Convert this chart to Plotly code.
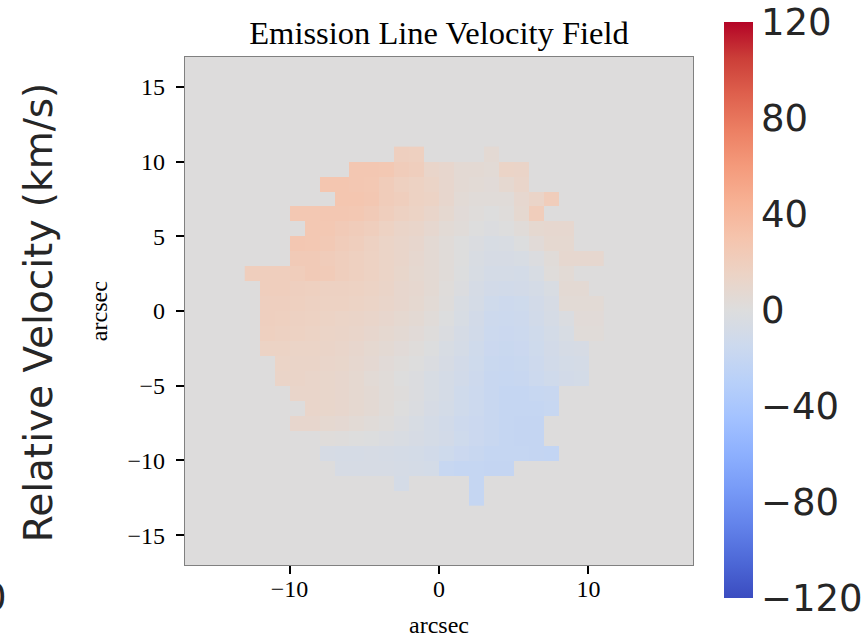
import plotly.graph_objects as go

# ---------------- data ----------------
title_text = "Emission Line Velocity Field"
x_label = "arcsec"
y_label = "arcsec"
cbar_label = "Relative Velocity (km/s)"
x_ticks = [-10, 0, 10]
y_ticks = [-15, -10, -5, 0, 5, 10, 15]
cbar_ticks = [120, 80, 40, 0, -40, -80, -120]
v_min, v_max = -120, 120
axis_range = [-17, 17]

# spaxel grid: 1 arcsec cells, lower-left corners from -13 to 10
cell_x0 = list(range(-13, 11))
cell_y0 = list(range(10, -14, -1))

# first filled column (lower-left x corner) of each row, top row first
row_start = [-3, -6, -8, -7, -10, -9, -10, -10, -13, -12, -12, -12, -12,
             -12, -11, -11, -10, -9, -10, -8, -8, -7, -3, 2]

# velocities (km/s) per row, top (y=10..11) to bottom (y=-13..-12)
v_r10 = [19, 18, None, None, None, None, 6]
v_r09 = [27, 27, 26, 22, 20, 12, 10, 6, 6, 5, 14, 13]
v_r08 = [28, 28, 27, 26, 22, 18, 16, 14, 10, 6, 5, 4, 8, 12]
v_r07 = [28, 28, 27, 22, 20, 16, 15, 10, 5, 3, 3, 3, 9, 13, 21]
v_r06 = [26, 26, 27, 27, 26, 24, 20, 17, 15, 12, 8, 4, 2, 0, 2, 8, 21]
v_r05 = [26, 26, 24, 22, 20, 16, 13, 12, 9, 5, 3, 0, -2, 0, 3, 8, 9, 9]
v_r04 = [27, 26, 25, 22, 20, 17, 14, 12, 10, 6, 3, 0, -3, -5, -4, -1, 4, 8, 8]
v_r03 = [24, 24, 22, 20, 18, 16, 14, 12, 9, 6, 3, 0, -4, -6, -6, -5, -2, 3, 9, 9, 9]
v_r02 = [20, 20, 20, 21, 24, 23, 20, 18, 16, 14, 11, 8, 6, 3, -1, -5, -8, -8, -9, -5, 2, 5]
v_r01 = [20, 20, 19, 18, 17, 17, 16, 15, 13, 10, 9, 6, 2, -2, -7, -10, -11, -10, -8, -4, 6, 6]
v_r00 = [19, 19, 18, 17, 16, 16, 15, 14, 12, 10, 8, 5, 1, -4, -8, -12, -14, -13, -10, -6, 5, 5, 5]
v_m01 = [19, 18, 17, 16, 15, 14, 13, 12, 10, 8, 6, 3, -1, -5, -10, -14, -15, -14, -11, -7, -3, 4, 4]
v_m02 = [18, 17, 16, 15, 14, 13, 12, 10, 8, 6, 4, 1, -3, -7, -11, -15, -16, -15, -12, -9, -5, 3, 3]
v_m03 = [15, 15, 14, 14, 13, 12, 10, 8, 6, 4, 2, -1, -5, -8, -12, -16, -17, -16, -13, -10, -7, -6]
v_m04 = [14, 13, 13, 12, 11, 9, 7, 4, 2, 0, -3, -6, -10, -13, -17, -18, -17, -14, -11, -9, -8]
v_m05 = [13, 13, 12, 11, 10, 8, 5, 3, 0, -2, -5, -8, -11, -14, -18, -19, -18, -15, -12, -10, -9]
v_m06 = [12, 12, 11, 10, 8, 6, 3, 1, -2, -5, -8, -12, -15, -18, -20, -20, -19, -18]
v_m07 = [12, 11, 10, 8, 6, 3, 0, -3, -6, -9, -12, -15, -18, -20, -20, -20, -19]
v_m08 = [10, 10, 8, 7, 5, 3, 1, -2, -5, -8, -11, -14, -16, -18, -20, -21, -21]
v_m09 = [2, 1, 0, -1, -3, -4, -6, -8, -10, -13, -16, -18, -20, -21, -21]
v_m10 = [-6, -7, -7, -6, -7, -8, -9, -11, -13, -16, -18, -20, -20, -20, -21, -22]
v_m11 = [-6, -6, -6, -6, -7, -8, -9, -19, -20, -20, -21, -21]
v_m12 = [-8, None, None, None, None, -20]
v_m13 = [-20]

rows = [v_r10, v_r09, v_r08, v_r07, v_r06, v_r05, v_r04, v_r03, v_r02, v_r01,
        v_r00, v_m01, v_m02, v_m03, v_m04, v_m05, v_m06, v_m07, v_m08, v_m09,
        v_m10, v_m11, v_m12, v_m13]

# ---------------- build grid ----------------
z = []
for start, vals in zip(row_start, rows):
    line = [None] * len(cell_x0)
    for k, v in enumerate(vals):
        line[cell_x0.index(start + k)] = v
    z.append(line)

x_centers = [c + 0.5 for c in cell_x0]
y_centers = [c + 0.5 for c in cell_y0]

# matplotlib "coolwarm"
cw_pos = [0.0, 0.0625, 0.125, 0.1875, 0.25, 0.3125, 0.375, 0.4375, 0.5,
          0.5625, 0.625, 0.6875, 0.75, 0.8125, 0.875, 0.9375, 1.0]
cw_rgb = [(0.2298, 0.2987, 0.7537), (0.3039, 0.4065, 0.8450), (0.3830, 0.5094, 0.9174),
          (0.4667, 0.6046, 0.9682), (0.5530, 0.6889, 0.9954), (0.6392, 0.7596, 0.9982),
          (0.7222, 0.8140, 0.9766), (0.7987, 0.8498, 0.9317), (0.8654, 0.8654, 0.8654),
          (0.9241, 0.8274, 0.7745), (0.9589, 0.7698, 0.6780), (0.9700, 0.6943, 0.5794),
          (0.9580, 0.6028, 0.4818), (0.9239, 0.4973, 0.3880), (0.8692, 0.3783, 0.3003),
          (0.7956, 0.2413, 0.2215), (0.7057, 0.0156, 0.1502)]
colorscale = [[p, "rgb(%d,%d,%d)" % tuple(round(255 * c) for c in rgb)]
              for p, rgb in zip(cw_pos, cw_rgb)]
bg_color = "rgb(221,220,220)"

fig = go.Figure()
fig.add_trace(go.Heatmap(
    x=x_centers, y=y_centers, z=z,
    zmin=v_min, zmax=v_max, colorscale=colorscale,
    hoverongaps=False,
    colorbar=dict(
        thickness=29, len=576 / 508, lenmode="fraction",
        x=(724 - 185) / 508, xanchor="left", xpad=0,
        y=(565 - 310) / 508, yanchor="middle", ypad=0,
        outlinewidth=0, tickvals=cbar_ticks, ticks="",
        tickfont=dict(family="DejaVu Sans", size=37, color="#262626"),
    ),
))

serif = "Liberation Serif, Times New Roman, serif"
axis_common = dict(
    range=axis_range, showgrid=False, zeroline=False,
    showline=True, mirror=True, linecolor="#808080", linewidth=1.2,
    ticks="outside", ticklen=8, tickwidth=1.5, tickcolor="#000000",
    tickfont=dict(family=serif, size=24, color="#000000"),
)
fig.update_xaxes(tickvals=x_ticks, ticklabelstandoff=-6, **axis_common)
fig.update_yaxes(tickvals=y_ticks, ticklabelstandoff=6, **axis_common)

fig.update_layout(
    width=868, height=640,
    margin=dict(l=185, r=175, t=57, b=75, autoexpand=False),
    paper_bgcolor="white", plot_bgcolor=bg_color,
    title=dict(text=title_text, x=0.5, xref="paper", xanchor="center",
               y=1 - 33 / 640, yref="container", yanchor="middle",
               font=dict(family=serif, size=32.5, color="#000000")),
    annotations=[
        dict(text=x_label, xref="paper", yref="paper", x=0.5, y=-0.118,
             showarrow=False, xanchor="center", yanchor="middle",
             font=dict(family=serif, size=24, color="#000000")),
        dict(text=y_label, xref="paper", yref="paper", x=-0.169, y=0.5,
             showarrow=False, xanchor="center", yanchor="middle", textangle=-90,
             font=dict(family=serif, size=24, color="#000000")),
        dict(text=cbar_label, xref="paper", yref="paper", x=-0.289, y=0.498,
             showarrow=False, xanchor="center", yanchor="middle", textangle=-90,
             font=dict(family="DejaVu Sans", size=39, color="#262626")),
        dict(text="0", xref="paper", yref="paper", x=(9 - 185) / 508, y=-0.063,
             showarrow=False, xanchor="right", yanchor="middle",
             font=dict(family="DejaVu Sans", size=37, color="#262626")),
    ],
)

fig.write_html("out.html")
